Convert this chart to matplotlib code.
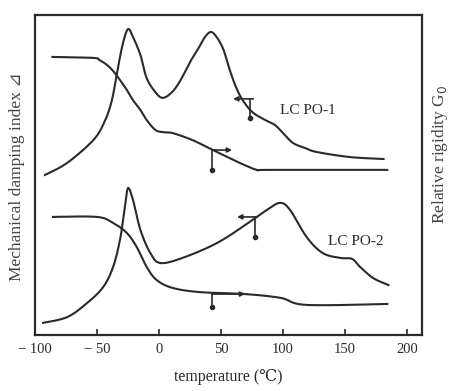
import matplotlib
matplotlib.use("Agg")
import matplotlib.pyplot as plt
import numpy as np

# LCPO-1 damping
d1_x = [-92, -74, -53, -44, -38, -33, -29, -25, -21, -15, -10, -3, 3, 10.5, 17, 25, 31, 37, 42, 47, 52, 57, 63, 69, 76, 85.5, 93.5, 100, 108, 118, 127, 154, 181]
d1_y = [50, 53.8, 60.9, 66.6, 73.4, 83.8, 91.3, 95.6, 93.1, 87.5, 80.3, 75.9, 74.1, 75.9, 79.4, 85.3, 89.1, 93.1, 94.7, 92.8, 89.1, 82.8, 76.6, 72.5, 69.4, 67.2, 65.6, 63.1, 60, 58.4, 57.2, 55.6, 55]
# LCPO-1 rigidity
r1_x = [-86, -53, -48, -42, -37, -31.5, -26, -21, -15, -10, -3, 3, 11, 27, 43.5, 60, 69, 79, 90, 184]
r1_y = [86.9, 86.6, 85.9, 84.4, 82.5, 79.7, 76.6, 73.4, 70.3, 67.2, 64.1, 63.4, 63.1, 60.9, 57.8, 54.7, 53.1, 51.6, 51.6, 51.6]
# LCPO-2 damping
d2_x = [-93.5, -74, -58, -45, -37, -31.5, -27.5, -25, -21, -15, -7, 1, 19, 47, 73, 87, 97.6, 105.6, 119, 132, 146, 155.6, 162, 172.6, 185]
d2_y = [3.8, 5.6, 10, 15, 21.3, 29.7, 40, 45.9, 42.2, 32.8, 25.6, 22.5, 24.1, 28.8, 35.3, 39.1, 41.3, 39.1, 30.6, 25.6, 24.1, 23.8, 21.3, 17.8, 15.6]
# LCPO-2 rigidity
r2_x = [-85.5, -50, -37, -26, -18, -10, -2, 11, 33, 69, 98, 119, 184]
r2_y = [36.9, 36.9, 35, 31.9, 27.5, 21.3, 17.2, 14.7, 13.4, 12.8, 11.6, 9.4, 9.7]

xticks = [-100, -50, 0, 50, 100, 150, 200]
xticklabels = ["− 100", "− 50", "0", "50", "100", "150", "200"]


def smooth(xs, ys, n=12):
    # Catmull-Rom spline through the read points (display smoothing only)
    p = np.column_stack([xs, ys]).astype(float)
    p = np.vstack([p[0], p, p[-1]])
    out = []
    t = np.linspace(0, 1, n, endpoint=False)[:, None]
    for i in range(1, len(p) - 2):
        p0, p1, p2, p3 = p[i - 1], p[i], p[i + 1], p[i + 2]
        seg = 0.5 * ((2 * p1) + (-p0 + p2) * t + (2 * p0 - 5 * p1 + 4 * p2 - p3) * t ** 2
                     + (-p0 + 3 * p1 - 3 * p2 + p3) * t ** 3)
        out.append(seg)
    out.append(p[-2][None, :])
    out = np.vstack(out)
    return out[:, 0], out[:, 1]


plt.rcParams['font.family'] = ['Liberation Serif', 'DejaVu Serif', 'DejaVu Sans']
fig = plt.figure(figsize=(4.55, 3.91), dpi=100)
ax = fig.add_axes([35/455, 1-335/391, (422-35)/455, (335-15)/391])
col = '#2a2a2a'
lw = 1.5
for xs, ys in [(d1_x, d1_y), (r1_x, r1_y), (d2_x, d2_y), (r2_x, r2_y)]:
    sx, sy = smooth(xs, ys)
    ax.plot(sx, sy, color=col, lw=lw, solid_joinstyle='round')


def marker(xc, yc, xs, xa, ydot):
    ax.annotate('', xy=(xa, yc), xytext=(xs, yc),
                arrowprops=dict(arrowstyle='-|>', color=col, lw=1.2, mutation_scale=7, shrinkA=0, shrinkB=0))
    ax.plot([xc, xc], [yc, ydot], color=col, lw=1.2)
    ax.plot([xc], [ydot], 'o', color=col, ms=3)


marker(73.4, 73.8, 76, 59.7, 67.8)
marker(42.7, 57.8, 42.7, 58.9, 51.6)
marker(77.4, 36.9, 79, 62.9, 30.6)
marker(42.7, 12.8, 42.7, 69.4, 8.8)

ax.text(120, 70.3, "LC PO-1", fontsize=11, ha='center', va='center', color=col)
ax.text(159, 29.1, "LC PO-2", fontsize=11, ha='center', va='center', color=col)

ax.set_xlim(-100, 212)
ax.set_ylim(0, 100)
ax.set_xticks(xticks)
ax.set_xticklabels(xticklabels, fontsize=10.5, color=col)
ax.tick_params(axis='x', direction='in', length=4, width=1.2, color=col, pad=6)
ax.set_yticks([])
for s in ax.spines.values():
    s.set_linewidth(1.6)
    s.set_color(col)
ax.set_xlabel("temperature (℃)", fontsize=11.5, color=col, labelpad=9)
fig.text(17/455, 1-177/391, "Mechanical damping index ⊿", rotation=90, ha='center', va='center', fontsize=12.5, color='#444444')
fig.text(440/455, 1-154/391, "Relative rigidity G$_0$", rotation=90, ha='center', va='center', fontsize=12.5, color='#444444')
fig.savefig("out.png", dpi=100)
